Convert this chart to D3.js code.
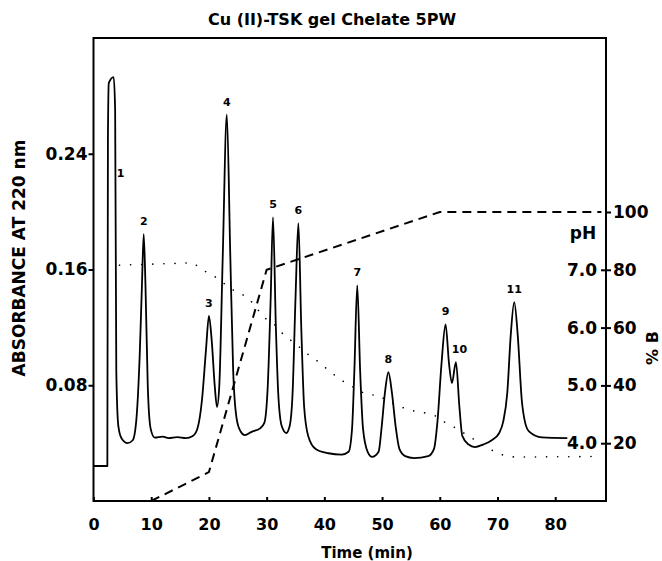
<!DOCTYPE html>
<html>
<head>
<meta charset="utf-8">
<script src="https://cdn.jsdelivr.net/npm/d3@7/dist/d3.min.js"></script>
<style>
body { margin: 0; background: #fff; }
text { font-family: "DejaVu Sans", "Liberation Sans", sans-serif; font-weight: bold; fill: #000; }
</style>
</head>
<body>
<div id="chart-area"></div>
<script>
// absorbance trace: [time (min), absorbance]
const trace = [
	[0, 0.0242], [2.4, 0.0242], [2.5, 0.25], [2.65, 0.289], [3.5, 0.293], [3.75, 0.27],
	[3.95, 0.09], [4.3, 0.052], [4.9, 0.043], [5.9, 0.040], [6.8, 0.042], [7.4, 0.055],
	[8.0, 0.10], [8.4, 0.15], [8.7, 0.1845], [9.0, 0.15], [9.4, 0.08], [9.9, 0.05],
	[10.6, 0.0438], [12, 0.0445], [13, 0.0435], [14.5, 0.0442], [16, 0.0435], [17.2, 0.045],
	[18.0, 0.05], [18.8, 0.07], [19.5, 0.105], [20.0, 0.128], [20.5, 0.11], [21.0, 0.08],
	[21.4, 0.065], [21.8, 0.08], [22.4, 0.17], [23.1, 0.267], [23.7, 0.17], [24.2, 0.09],
	[24.8, 0.057], [25.5, 0.048], [26.2, 0.0455], [27.5, 0.048], [28.8, 0.050], [29.6, 0.054],
	[30.2, 0.08], [30.7, 0.14], [31.1, 0.196], [31.6, 0.12], [32.0, 0.075], [32.6, 0.052],
	[33.4, 0.047], [34.0, 0.052], [34.5, 0.075], [35.0, 0.14], [35.5, 0.192], [36.0, 0.12],
	[36.5, 0.065], [37.2, 0.045], [38.5, 0.036], [40.7, 0.033], [43.0, 0.032], [44.2, 0.034],
	[44.8, 0.05], [45.2, 0.09], [45.7, 0.149], [46.2, 0.09], [46.7, 0.05], [47.5, 0.034],
	[48.3, 0.0305], [49.4, 0.034], [49.9, 0.05], [50.5, 0.075], [51.1, 0.089], [51.7, 0.075],
	[52.4, 0.05], [53.0, 0.036], [54.0, 0.031], [55.5, 0.0297], [58.0, 0.031], [59.0, 0.036],
	[59.6, 0.055], [60.3, 0.095], [61.0, 0.122], [61.6, 0.095], [62.1, 0.0815], [62.8, 0.096],
	[63.4, 0.065], [63.9, 0.045], [65.0, 0.039], [66.1, 0.0373], [67.5, 0.039], [69.0, 0.042],
	[70.3, 0.047], [71.0, 0.055], [71.7, 0.075], [72.3, 0.115], [72.9, 0.1375], [73.5, 0.115],
	[74.2, 0.07], [74.8, 0.054], [75.5, 0.048], [77.7, 0.044], [82.1, 0.0435]
]

// pH (dotted line)
const phCurve = [
	[4.5, 7.08], [17.2, 7.12], [19.7, 6.95], [21.4, 6.86], [23.8, 6.67], [26.8, 6.52],
	[29.6, 6.17], [31.3, 6.06], [33.0, 5.87], [35.1, 5.71], [37.0, 5.55], [39.1, 5.40],
	[41.2, 5.22], [43.3, 5.07], [47.3, 4.84], [49.4, 4.83], [51.1, 4.72], [53.0, 4.64],
	[54.8, 4.57], [57.2, 4.53], [59.1, 4.48], [60.9, 4.36], [63.0, 4.25], [65.2, 4.11],
	[69.0, 3.88], [70.8, 3.80], [72.9, 3.76], [88, 3.77]
]

// gradient %B (dashed line)
const gradient = [[10, 0], [20, 10], [30, 80], [60, 100], [88, 100]]

// peak numbers and where they sit (time, absorbance of the peak top)
const peaks = [
	{ n: "1", t: 4.7, a: 0.218 }, { n: "2", t: 8.7, a: 0.1845 }, { n: "3", t: 20.0, a: 0.128 },
	{ n: "4", t: 23.1, a: 0.267 }, { n: "5", t: 31.1, a: 0.196 }, { n: "6", t: 35.5, a: 0.192 },
	{ n: "7", t: 45.7, a: 0.149 }, { n: "8", t: 51.1, a: 0.089 }, { n: "9", t: 61.0, a: 0.122 },
	{ n: "10", t: 63.4, a: 0.096 }, { n: "11", t: 72.9, a: 0.1375 }
]

const timeTicks = [0, 10, 20, 30, 40, 50, 60, 70, 80]
const absTicks = [0.08, 0.16, 0.24]
const bTicks = [20, 40, 60, 80, 100]
const phTicks = [4, 5, 6, 7]

const svg = d3.select("#chart-area").append("svg")
	.attr("width", 662)
	.attr("height", 561)

const x = d3.scaleLinear().domain([0, 88.8]).range([93.5, 606])
const y = d3.scaleLinear().domain([0, 0.32]).range([501, 38])
const yB = d3.scaleLinear().domain([0, 100]).range([501, 212])
const yPH = d3.scaleLinear().domain([3, 8]).range([501, 212]) // pH 4 = 20 %B, pH 7 = 80 %B

// frame
svg.append("rect")
	.attr("x", x.range()[0])
	.attr("y", y.range()[1])
	.attr("width", x.range()[1] - x.range()[0])
	.attr("height", y.range()[0] - y.range()[1])
	.attr("fill", "none")
	.attr("stroke", "#000")
	.attr("stroke-width", 2)

const styleAxis = (g, size) => {
	g.select(".domain").remove()
	g.selectAll(".tick line").attr("stroke", "#000").attr("stroke-width", 2)
	g.selectAll(".tick text").style("font-size", size + "px")
}

svg.append("g")
	.attr("transform", `translate(${x.range()[0]},0)`)
	.call(d3.axisLeft(y).tickValues(absTicks).tickFormat(d3.format(".2f")).tickSize(5).tickPadding(1))
	.call(g => styleAxis(g, 17))

svg.append("g")
	.attr("transform", `translate(0,${y.range()[0]})`)
	.call(d3.axisBottom(x).tickValues(timeTicks).tickSizeInner(-4).tickSizeOuter(0).tickPadding(18))
	.call(g => styleAxis(g, 16))

svg.append("g")
	.attr("transform", `translate(${x.range()[1]},0)`)
	.call(d3.axisRight(yB).tickValues(bTicks).tickSize(5).tickPadding(2))
	.call(g => styleAxis(g, 17))

svg.append("g")
	.attr("transform", `translate(${x.range()[1]},0)`)
	.call(d3.axisLeft(yPH).tickValues(phTicks).tickFormat(d3.format(".1f")).tickSize(5).tickPadding(4))
	.call(g => styleAxis(g, 17))

// pH dotted curve
svg.append("path")
	.datum(phCurve)
	.attr("fill", "none")
	.attr("stroke", "#000")
	.attr("stroke-width", 1.6)
	.attr("stroke-linecap", "round")
	.attr("stroke-dasharray", "0.1 11")
	.attr("d", d3.line().x(d => x(d[0])).y(d => yPH(d[1])))

// gradient dashed line
svg.append("path")
	.datum(gradient)
	.attr("fill", "none")
	.attr("stroke", "#000")
	.attr("stroke-width", 2)
	.attr("stroke-dasharray", "9 6")
	.attr("d", d3.line().x(d => x(d[0])).y(d => yB(d[1])))

// chromatogram
svg.append("path")
	.datum(trace)
	.attr("fill", "none")
	.attr("stroke", "#000")
	.attr("stroke-width", 1.8)
	.attr("stroke-linejoin", "round")
	.attr("d", d3.line().x(d => x(d[0])).y(d => y(d[1])).curve(d3.curveMonotoneX))

svg.selectAll(".peak-label")
	.data(peaks)
	.enter().append("text")
	.attr("class", "peak-label")
	.attr("x", d => x(d.t))
	.attr("y", d => y(d.a) - 9)
	.attr("text-anchor", "middle")
	.style("font-size", "11px")
	.text(d => d.n)

// titles
svg.append("text")
	.attr("x", 332)
	.attr("y", 25)
	.attr("text-anchor", "middle")
	.style("font-size", "16px")
	.text("Cu (II)-TSK gel Chelate 5PW")

svg.append("text")
	.attr("x", 367)
	.attr("y", 558)
	.attr("text-anchor", "middle")
	.style("font-size", "15px")
	.text("Time (min)")

svg.append("text")
	.attr("transform", "translate(25,258) rotate(-90)")
	.attr("text-anchor", "middle")
	.style("font-size", "17px")
	.text("ABSORBANCE AT 220 nm")

svg.append("text")
	.attr("x", 583)
	.attr("y", 239)
	.attr("text-anchor", "middle")
	.style("font-size", "17px")
	.text("pH")

svg.append("text")
	.attr("transform", "translate(658,348) rotate(-90)")
	.attr("text-anchor", "middle")
	.style("font-size", "16px")
	.text("% B")
</script>
</body>
</html>
